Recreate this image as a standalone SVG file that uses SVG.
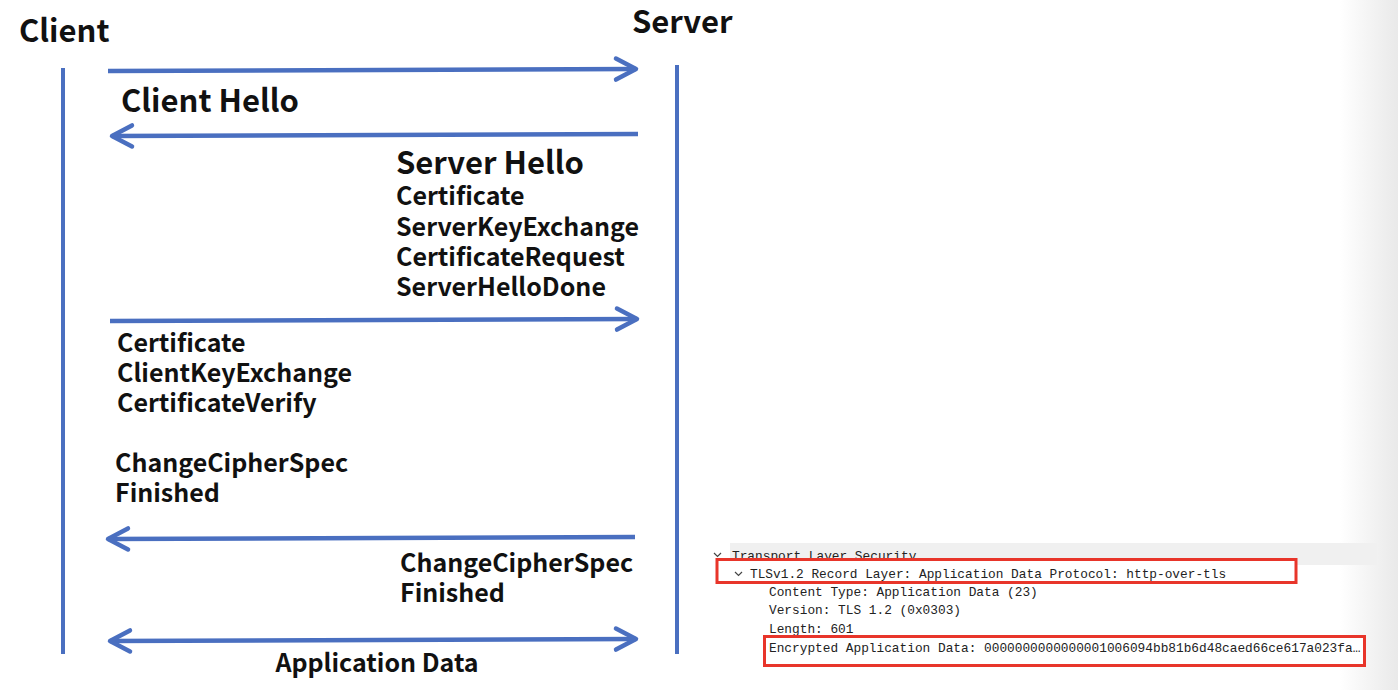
<svg xmlns="http://www.w3.org/2000/svg" width="1398" height="690" viewBox="0 0 1398 690">
<defs>
<linearGradient id="edge" x1="0" y1="0" x2="1" y2="0">
<stop offset="0" stop-color="#ffffff"/>
<stop offset="1" stop-color="#e9e9e9"/>
</linearGradient>
<marker id="ah" markerUnits="userSpaceOnUse" markerWidth="34" markerHeight="34" viewBox="-28 -17 34 34" refX="0" refY="0" orient="auto-start-reverse">
<path d="M-20,-10.5 L0,0 L-20,10.5" fill="none" stroke="#4a6fc0" stroke-width="4.5" stroke-linecap="round" stroke-linejoin="round"/>
</marker>
</defs>
<style>
.t{font-family:"Noto Sans CJK SC","Noto Sans",sans-serif;font-weight:bold;fill:#111}
.big{font-size:31px}
.md{font-size:25px}
.life{stroke:#4a6fc0;stroke-width:4;fill:none}
.msg{stroke:#4a6fc0;stroke-width:4.5;fill:none}
.m{font-family:"Liberation Mono","DejaVu Sans Mono",monospace;font-size:12.8px;fill:#222}
.box{fill:#fff;stroke:#e8352a;stroke-width:3}
.chev{fill:none;stroke:#444;stroke-width:1.2}
</style>
<rect x="0" y="0" width="1398" height="690" fill="#fff"/>
<rect x="1340" y="0" width="58" height="690" fill="url(#edge)"/>

<g id="client">
<text class="t big" x="19" y="42">Client</text>
<line class="life" x1="63" y1="68" x2="63" y2="654"/>
</g>
<g id="server">
<text class="t big" x="632" y="33">Server</text>
<line class="life" x1="677" y1="65" x2="677" y2="654"/>
</g>

<g id="connectors">
<line class="msg" x1="108" y1="71" x2="636" y2="69" marker-end="url(#ah)"/>
<line class="msg" x1="638" y1="134" x2="112" y2="136" marker-end="url(#ah)"/>
<line class="msg" x1="110" y1="321" x2="637" y2="319" marker-end="url(#ah)"/>
<line class="msg" x1="635" y1="537" x2="108" y2="539" marker-end="url(#ah)"/>
<line class="msg" x1="110" y1="641" x2="636" y2="639" marker-start="url(#ah)" marker-end="url(#ah)"/>
</g>

<g id="client-hello">
<text class="t big" x="121" y="112">Client Hello</text>
</g>
<g id="server-hello">
<text class="t big" x="396" y="174">Server Hello</text>
<text class="t md" x="396" y="205">Certificate</text>
<text class="t md" x="396" y="236">ServerKeyExchange</text>
<text class="t md" x="396" y="266">CertificateRequest</text>
<text class="t md" x="396" y="296">ServerHelloDone</text>
</g>
<g id="client-cert">
<text class="t md" x="117" y="352">Certificate</text>
<text class="t md" x="117" y="382">ClientKeyExchange</text>
<text class="t md" x="117" y="412">CertificateVerify</text>
<text class="t md" x="115" y="472">ChangeCipherSpec</text>
<text class="t md" x="115" y="502">Finished</text>
</g>
<g id="server-finished">
<text class="t md" x="400" y="572">ChangeCipherSpec</text>
<text class="t md" x="400" y="602">Finished</text>
</g>
<g id="app-data">
<text class="t md" x="377" y="672" text-anchor="middle">Application Data</text>
</g>

<g id="wireshark">
<rect x="730" y="543" width="647" height="22" fill="#f0f0f0"/>
<polyline class="chev" points="714,553 717.5,556.5 721,553"/>
<text class="m" x="732" y="560">Transport Layer Security</text>
<rect class="box" x="717" y="559.5" width="579" height="23"/>
<polyline class="chev" points="735,572 738.5,575.5 742,572"/>
<text class="m" x="750" y="578">TLSv1.2 Record Layer: Application Data Protocol: http-over-tls</text>
<text class="m" x="769" y="596">Content Type: Application Data (23)</text>
<text class="m" x="769" y="614">Version: TLS 1.2 (0x0303)</text>
<text class="m" x="769" y="633">Length: 601</text>
<rect class="box" x="764.5" y="636.5" width="600" height="29"/>
<text class="m" x="769" y="652">Encrypted Application Data: 0000000000000001006094bb81b6d48caed66ce617a023fa…</text>
</g>
</svg>
